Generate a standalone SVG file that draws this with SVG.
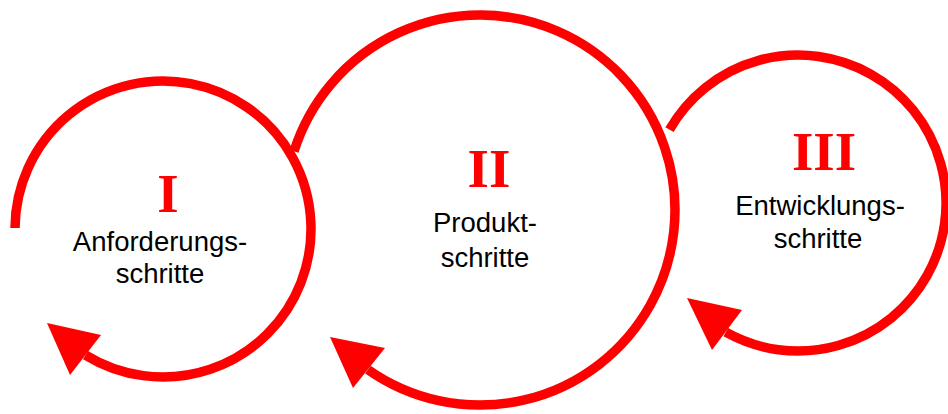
<svg xmlns="http://www.w3.org/2000/svg" width="948" height="414" viewBox="0 0 948 414">
<style>
.arc{fill:none;stroke:#ff0000;stroke-width:9.5}
.head{fill:#ff0000;stroke:none}
.num{font-family:"Liberation Serif","Times New Roman",serif;font-weight:bold;font-size:55px;fill:#ff0000;text-anchor:middle}
.lbl{font-family:"Liberation Sans",Arial,sans-serif;font-size:27.5px;fill:#000;text-anchor:middle}
</style>
<rect width="948" height="414" fill="#fff"/>
<g id="node-II">
<path class="arc" d="M 294 151.4 A 195 195 0 1 1 367.9 369.6"/>
<polygon class="head" points="330,337 385,348 353,388"/>
<text class="num" x="489" y="187">II</text>
<text class="lbl" x="485" y="232">Produkt-</text>
<text class="lbl" x="485" y="267">schritte</text>
</g>
<g id="node-III">
<path class="arc" d="M 669.5 129.7 A 148 148 0 1 1 725.8 332.2"/>
<polygon class="head" points="687,298 742,310 712,350"/>
<text class="num" x="824" y="170">III</text>
<text class="lbl" x="820" y="215">Entwicklungs-</text>
<text class="lbl" x="818" y="248">schritte</text>
</g>
<g id="node-I">
<path class="arc" d="M 15 228 A 148 148 0 1 1 85.5 355.1"/>
<polygon class="head" points="47,323 101,335 70,375"/>
<text class="num" x="168" y="212">I</text>
<text class="lbl" x="160" y="251">Anforderungs-</text>
<text class="lbl" x="160" y="283">schritte</text>
</g>
<g id="connectors"></g>
</svg>
